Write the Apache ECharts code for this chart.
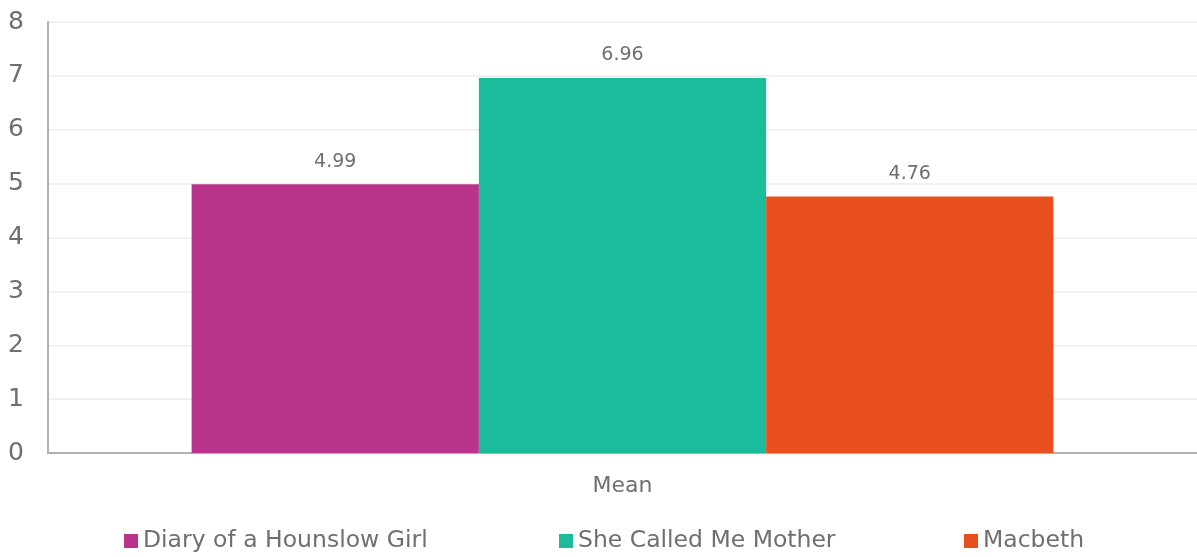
<!DOCTYPE html>
<html>
<head>
<meta charset="utf-8">
<script src="https://cdn.jsdelivr.net/npm/echarts@6/dist/echarts.min.js"></script>
<style>
  html, body { margin: 0; padding: 0; background: #fff; }
  #chart { width: 1197px; height: 557px; }
</style>
</head>
<body>
<div id="chart"></div>
<script>
const categories = ['Mean'];
const seriesNames = ['Diary of a Hounslow Girl', 'She Called Me Mother', 'Macbeth'];
const seriesValues = [[4.99], [6.96], [4.76]];
const colors = ['#b8348a', '#1abc9c', '#e84f1e'];
const legendLeft = [119, 554, 959];

const font = 'Tahoma, "DejaVu Sans", sans-serif';
const myChart = echarts.init(document.querySelector('#chart'));

const option = {
  animation: false,
  textStyle: { fontFamily: font },
  grid: { left: 48, right: 0, top: 22, bottom: 104 },
  legend: seriesNames.map((name, i) => ({
    data: [name],
    left: legendLeft[i],
    top: 524,
    itemWidth: 14,
    itemHeight: 14,
    itemGap: 7,
    icon: 'rect',
    textStyle: { fontSize: 23.5, color: '#6f6f6f', fontFamily: font }
  })),
  xAxis: {
    type: 'category',
    data: categories,
    axisLine: { lineStyle: { color: '#b0b0b0', width: 2 } },
    axisTick: { show: false },
    axisLabel: { fontSize: 22, color: '#6f6f6f', margin: 22 }
  },
  yAxis: {
    type: 'value',
    min: 0,
    max: 8,
    interval: 1,
    axisLine: { show: true, lineStyle: { color: '#b0b0b0', width: 2 } },
    axisTick: { show: false },
    splitLine: { lineStyle: { color: '#f0f0f0', width: 2 } },
    axisLabel: { fontSize: 25, color: '#6f6f6f', margin: 24 }
  },
  series: seriesNames.map((name, i) => ({
    name: name,
    type: 'bar',
    data: seriesValues[i],
    barGap: '0%',
    barCategoryGap: '25%',
    itemStyle: { color: colors[i] },
    label: {
      show: true,
      position: 'top',
      distance: 13,
      fontSize: 19,
      color: '#6f6f6f',
      formatter: p => p.value.toFixed(2)
    }
  }))
};

myChart.setOption(option);

window.addEventListener('resize', function() {
  myChart.resize();
});
</script>
</body>
</html>
